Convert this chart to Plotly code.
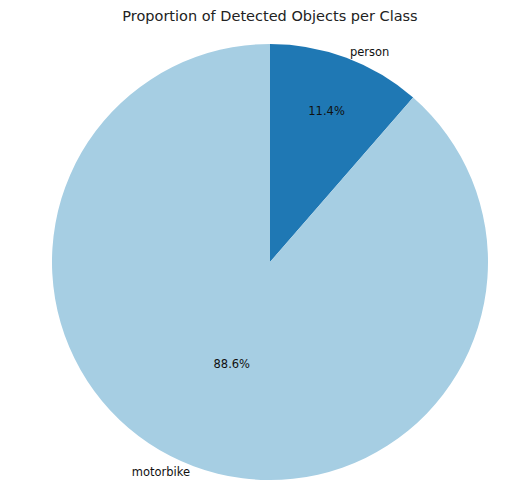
import plotly.graph_objects as go

classes = ["person", "motorbike"]
percentages = [11.4, 88.6]
colors = ["#1f78b4", "#a6cee3"]

W, H = 530, 492
font = "DejaVu Sans"
dom = dict(x=[(270 - 218) / W, (270 + 218) / W], y=[(H - 480) / H, (H - 44) / H])

fig = go.Figure()
# filled slices with percentage text inside
fig.add_trace(go.Pie(
    labels=classes, values=percentages, sort=False, direction="clockwise", rotation=0,
    marker=dict(colors=colors, line=dict(width=0)),
    texttemplate="%{percent:.1%}", textposition="inside", insidetextorientation="horizontal",
    textfont=dict(family=font, size=11.5, color="#111111"),
    domain=dom, showlegend=False, hoverinfo="label+percent",
))
# transparent overlay carrying the class labels outside
fig.add_trace(go.Pie(
    labels=classes, values=percentages, sort=False, direction="clockwise", rotation=0,
    marker=dict(colors=["rgba(0,0,0,0)"] * len(classes), line=dict(width=0)),
    texttemplate="%{label}", textposition="outside",
    textfont=dict(family=font, size=11.5, color="#111111"),
    domain=dom, showlegend=False, hoverinfo="skip",
))

fig.update_layout(
    width=W, height=H,
    margin=dict(l=0, r=0, t=0, b=0),
    paper_bgcolor="white", plot_bgcolor="white",
    title=dict(text="Proportion of Detected Objects per Class", x=270 / W, xanchor="center",
               y=1 - 16 / H, yanchor="middle", yref="container",
               font=dict(family=font, size=14.5, color="#222222")),
)

fig.write_html("out.html")
